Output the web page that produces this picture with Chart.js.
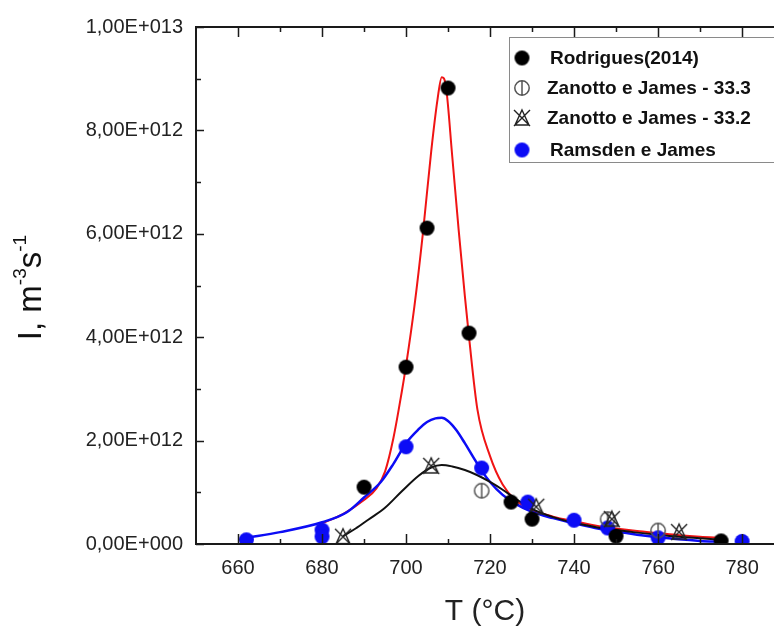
<!DOCTYPE html>
<html>
<head>
<meta charset="utf-8">
<script src="https://cdn.jsdelivr.net/npm/chart.js@4/dist/chart.umd.min.js"></script>
<style>
  html, body { margin: 0; padding: 0; background: #fff; overflow: hidden; }
  #wrap { width: 774px; height: 634px; position: relative; }
</style>
</head>
<body>
<div id="wrap"><canvas id="chart" width="774" height="634"></canvas></div>
<script>

// Measured points (T in degC, I in m-3 s-1)
const rodriguesT = [690, 700, 705, 710, 715, 725, 730, 750, 775];
const rodriguesI = [1.10e12, 3.42e12, 6.11e12, 8.82e12, 4.08e12, 0.81e12, 0.48e12, 0.15e12, 0.06e12];

const zanotto333T = [718, 748, 760];
const zanotto333I = [1.03e12, 0.48e12, 0.26e12];

const zanotto332T = [685, 706, 731, 749, 765];
const zanotto332I = [0.14e12, 1.51e12, 0.72e12, 0.48e12, 0.23e12];

const ramsdenT = [662, 680, 680, 700, 718, 729, 740, 748, 760, 780];
const ramsdenI = [0.08e12, 0.27e12, 0.14e12, 1.88e12, 1.47e12, 0.81e12, 0.46e12, 0.31e12, 0.12e12, 0.05e12];

// Fitted curves
const redCurveT = [680, 685, 690, 693, 695, 697, 699, 700, 702, 704, 706, 707.5, 708.5, 709.5, 711, 712.5, 714, 715, 717, 720, 723, 726, 730, 735, 740, 745, 750, 755, 760, 765, 770, 775];
const redCurveI = [0.40e12, 0.58e12, 0.85e12, 1.08e12, 1.40e12, 2.05e12, 2.95e12, 3.45e12, 4.6e12, 6.0e12, 7.6e12, 8.6e12, 9.03e12, 8.85e12, 7.5e12, 6.1e12, 4.8e12, 4.0e12, 2.6e12, 1.7e12, 1.15e12, 0.85e12, 0.66e12, 0.53e12, 0.44e12, 0.36e12, 0.30e12, 0.25e12, 0.21e12, 0.17e12, 0.14e12, 0.12e12];

const blueCurveT = [662, 670, 680, 686, 690, 694, 697, 700, 703, 705, 707, 708.5, 710, 712, 714, 716, 718, 720, 723, 726, 730, 735, 740, 745, 750, 755, 760, 765, 770, 775];
const blueCurveI = [0.12e12, 0.23e12, 0.42e12, 0.62e12, 0.90e12, 1.20e12, 1.55e12, 1.95e12, 2.22e12, 2.36e12, 2.43e12, 2.44e12, 2.38e12, 2.20e12, 1.95e12, 1.68e12, 1.42e12, 1.20e12, 0.95e12, 0.78e12, 0.62e12, 0.50e12, 0.40e12, 0.31e12, 0.24e12, 0.18e12, 0.13e12, 0.09e12, 0.06e12, 0.04e12];

const blackCurveT = [685, 688, 691, 695, 699, 703, 706, 708.5, 711, 714, 717, 720, 723, 726, 730, 735, 740, 745, 750, 755, 760, 765, 770, 775];
const blackCurveI = [0.15e12, 0.30e12, 0.47e12, 0.70e12, 1.02e12, 1.32e12, 1.48e12, 1.53e12, 1.50e12, 1.43e12, 1.33e12, 1.20e12, 1.05e12, 0.88e12, 0.68e12, 0.52e12, 0.41e12, 0.33e12, 0.27e12, 0.22e12, 0.18e12, 0.14e12, 0.11e12, 0.08e12];

// Axis ticks
const xTicks = [660, 680, 700, 720, 740, 760, 780];
const xMinorTicks = [670, 690, 710, 730, 750, 770];
const yTicks = [0, 2e12, 4e12, 6e12, 8e12, 1e13];
const yMinorTicks = [1e12, 3e12, 5e12, 7e12, 9e12];

const legendLabels = ['Rodrigues(2014)', 'Zanotto e James - 33.3', 'Zanotto e James - 33.2', 'Ramsden e James'];

const BLUE = 'rgb(12,12,245)';
const AXIS = '#1a1a1a';
const FONT = '"Liberation Sans", Arial, sans-serif';


// Marker images
function markerCanvas(size, draw) {
  const c = document.createElement('canvas');
  c.width = size;
  c.height = size;
  draw(c.getContext('2d'), size);
  return c;
}

const dotBlack = markerCanvas(17, function (ctx, s) {
  ctx.fillStyle = '#000';
  ctx.beginPath();
  ctx.arc(s / 2, s / 2, 7.5, 0, Math.PI * 2);
  ctx.fill();
});

const dotBlue = markerCanvas(17, function (ctx, s) {
  ctx.fillStyle = BLUE;
  ctx.beginPath();
  ctx.arc(s / 2, s / 2, 7.5, 0, Math.PI * 2);
  ctx.fill();
});

const circleBar = markerCanvas(18, function (ctx, s) {
  ctx.strokeStyle = '#555';
  ctx.lineWidth = 1.5;
  ctx.beginPath();
  ctx.arc(s / 2, s / 2, 7.2, 0, Math.PI * 2);
  ctx.moveTo(s / 2, 1.5);
  ctx.lineTo(s / 2, s - 1.5);
  ctx.stroke();
});

const crossStar = markerCanvas(20, function (ctx, s) {
  ctx.strokeStyle = '#222';
  ctx.lineWidth = 1.4;
  ctx.beginPath();
  ctx.moveTo(2, 2); ctx.lineTo(s - 2, s - 2);
  ctx.moveTo(s - 2, 2); ctx.lineTo(2, s - 2);
  ctx.moveTo(s / 2, 2); ctx.lineTo(s - 3, s - 3); ctx.lineTo(3, s - 3); ctx.closePath();
  ctx.stroke();
});

const legendMarkers = [dotBlack, circleBar, crossStar, dotBlue];


function points(ts, is) {
  return ts.map((t, i) => ({x: t, y: is[i]}));
}

function sciLabel(v) {
  if (v === 0) return '0,00E+000';
  const e = Math.floor(Math.log10(v) + 1e-9);
  const m = v / Math.pow(10, e);
  return m.toFixed(2).replace('.', ',') + 'E+' + String(e).padStart(3, '0');
}


// Frame, inside ticks, y title and boxed legend
const decorations = {
  id: 'decorations',
  afterDraw(chart) {
    const ctx = chart.ctx;
    const a = chart.chartArea;
    const xs = chart.scales.x;
    const ys = chart.scales.y;
    ctx.save();
    ctx.strokeStyle = AXIS;
    ctx.lineWidth = 2;
    ctx.beginPath();
    ctx.moveTo(a.left, a.top); ctx.lineTo(a.left, a.bottom);
    ctx.moveTo(a.left - 1, a.bottom); ctx.lineTo(a.right, a.bottom);
    ctx.moveTo(a.left - 1, a.top); ctx.lineTo(a.right, a.top);
    ctx.stroke();

    ctx.lineWidth = 1.5;
    ctx.beginPath();
    xTicks.forEach(v => {
      const p = Math.round(xs.getPixelForValue(v)) + 0.5;
      ctx.moveTo(p, a.bottom); ctx.lineTo(p, a.bottom - 10);
      ctx.moveTo(p, a.top); ctx.lineTo(p, a.top + 10);
    });
    xMinorTicks.forEach(v => {
      const p = Math.round(xs.getPixelForValue(v)) + 0.5;
      ctx.moveTo(p, a.bottom); ctx.lineTo(p, a.bottom - 5);
      ctx.moveTo(p, a.top); ctx.lineTo(p, a.top + 5);
    });
    yTicks.forEach(v => {
      const p = Math.round(ys.getPixelForValue(v)) + 0.5;
      ctx.moveTo(a.left, p); ctx.lineTo(a.left + 8, p);
    });
    yMinorTicks.forEach(v => {
      const p = Math.round(ys.getPixelForValue(v)) + 0.5;
      ctx.moveTo(a.left, p); ctx.lineTo(a.left + 5, p);
    });
    ctx.stroke();

    // Y axis title with superscripts
    ctx.fillStyle = '#111';
    ctx.translate(41, (a.top + a.bottom) / 2);
    ctx.rotate(-Math.PI / 2);
    const big = '33px ' + FONT;
    const small = '19px ' + FONT;
    const parts = [['I, m', big, 0], ['-3', small, -15], ['s', big, 0], ['-1', small, -15]];
    let total = 0;
    parts.forEach(p => { ctx.font = p[1]; total += ctx.measureText(p[0]).width; });
    let cx = -total / 2 - 2;
    ctx.textBaseline = 'alphabetic';
    parts.forEach(p => {
      ctx.font = p[1];
      ctx.fillText(p[0], cx, p[2]);
      cx += ctx.measureText(p[0]).width;
    });
    ctx.setTransform(1, 0, 0, 1, 0, 0);

    // Legend box
    const bx = 509, by = 37, bw = 270, bh = 125;
    ctx.strokeStyle = '#8a8a8a';
    ctx.lineWidth = 1;
    ctx.fillStyle = '#fff';
    ctx.fillRect(bx, by, bw, bh);
    ctx.strokeRect(bx + 0.5, by + 0.5, bw, bh);
    const rows = [58, 88, 118, 150];
    ctx.font = 'bold 19px ' + FONT;
    ctx.fillStyle = '#111';
    ctx.textBaseline = 'middle';
    legendLabels.forEach((label, i) => {
      const m = legendMarkers[i];
      ctx.drawImage(m, 522 - m.width / 2, rows[i] - m.height / 2);
      ctx.fillText(label, i === 0 || i === 3 ? 550 : 547, rows[i] + 1);
    });
    ctx.restore();
  }
};


new Chart(document.getElementById('chart').getContext('2d'), {
  type: 'scatter',
  data: {
    datasets: [
      {
        label: 'Rodrigues fit',
        data: points(redCurveT, redCurveI),
        showLine: true, borderColor: 'rgb(240,20,20)', borderWidth: 2,
        pointRadius: 0, cubicInterpolationMode: 'monotone', order: 10
      },
      {
        label: 'Ramsden fit',
        data: points(blueCurveT, blueCurveI),
        showLine: true, borderColor: BLUE, borderWidth: 2.5,
        pointRadius: 0, cubicInterpolationMode: 'monotone', order: 9
      },
      {
        label: 'Zanotto fit',
        data: points(blackCurveT, blackCurveI),
        showLine: true, borderColor: '#111', borderWidth: 2,
        pointRadius: 0, cubicInterpolationMode: 'monotone', order: 8
      },
      {
        label: legendLabels[3],
        data: points(ramsdenT, ramsdenI),
        pointStyle: dotBlue, order: 4
      },
      {
        label: legendLabels[1],
        data: points(zanotto333T, zanotto333I),
        pointStyle: circleBar, order: 3
      },
      {
        label: legendLabels[2],
        data: points(zanotto332T, zanotto332I),
        pointStyle: crossStar, order: 2
      },
      {
        label: legendLabels[0],
        data: points(rodriguesT, rodriguesI),
        pointStyle: dotBlack, order: 1
      }
    ]
  },
  options: {
    responsive: false,
    animation: false,
    layout: {autoPadding: false, padding: {top: 27, right: 0, left: 0, bottom: 0}},
    plugins: {legend: {display: false}, tooltip: {enabled: false}},
    scales: {
      x: {
        type: 'linear',
        min: 650,
        max: 787.6,
        afterBuildTicks: s => { s.ticks = xTicks.map(v => ({value: v})); },
        afterFit: s => { s.height = 90; s.paddingLeft = 0; s.paddingRight = 0; },
        grid: {display: false, drawTicks: false, tickLength: 0},
        border: {display: false},
        ticks: {
          padding: 12,
          color: '#222',
          font: {family: FONT, size: 20},
          maxRotation: 0
        },
        title: {
          display: true,
          text: 'T (°C)',
          color: '#222',
          font: {family: FONT, size: 30},
          padding: {top: 14}
        }
      },
      y: {
        type: 'linear',
        min: 0,
        max: 1e13,
        afterBuildTicks: s => { s.ticks = yTicks.map(v => ({value: v})); },
        afterFit: s => { s.width = 196; s.paddingTop = 0; s.paddingBottom = 0; },
        grid: {display: false, drawTicks: false, tickLength: 0},
        border: {display: false},
        ticks: {
          padding: 13,
          color: '#222',
          font: {family: FONT, size: 20},
          callback: v => sciLabel(v)
        }
      }
    }
  },
  plugins: [decorations]
});
</script>
</body>
</html>
